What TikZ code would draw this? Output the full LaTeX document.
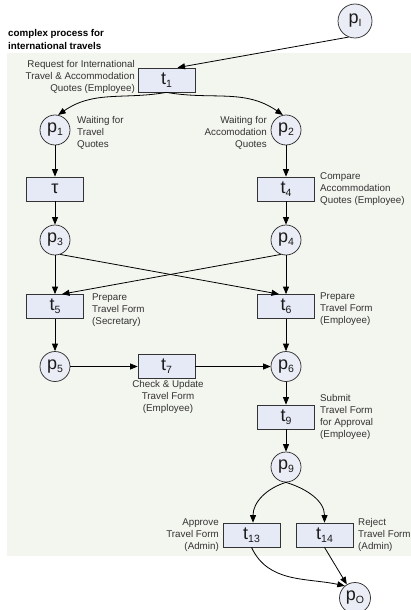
\documentclass[tikz,border=0pt]{standalone}
\usepackage{fontspec}
\setmainfont{Liberation Sans}
\usetikzlibrary{arrows.meta}
\definecolor{panel}{HTML}{F3F5EF}
\definecolor{boxfill}{HTML}{E6E9F6}
\definecolor{placefill}{HTML}{EBEDF6}
\definecolor{labeltext}{HTML}{333333}
\definecolor{nametext}{HTML}{1A1A1A}
% lowered index of a place or transition name
\newcommand\idx[1]{\raisebox{-0.3ex}{\fontsize{10.5}{10.5}\selectfont #1}}

\begin{document}
\begin{tikzpicture}[x=1pt,y=1pt,
  trans/.style={draw=black!80, fill=boxfill, line width=0.75pt,
    minimum width=57pt, minimum height=24pt, inner sep=0pt, text=nametext,
    font=\fontsize{18}{18}\selectfont},
  place/.style={circle, draw=black!80, fill=placefill, line width=0.75pt,
    minimum size=30pt, inner sep=0pt, text=nametext,
    font=\fontsize{18}{18}\selectfont},
  lbl/.style={text=labeltext, font=\fontsize{9.8}{12}\selectfont, inner sep=0pt},
  arr/.style={-{Triangle[length=7.5pt,width=6pt]}, line width=0.8pt}
]
\useasboundingbox (0,0) rectangle (410,-610);

% shaded process area
\fill[panel] (7,-53) rectangle (412,-556);

\node[anchor=west, align=left, inner sep=0pt, font=\fontsize{9.8}{12.5}\selectfont\bfseries]
  (title) at (8,-39.5) {complex process for\\international travels};

% places
\node[place, minimum size=34pt] (pI) at (355,-21) {p\idx{I}};
\node[place] (p1) at (55,-130) {p\idx{1}};
\node[place] (p2) at (286,-130) {p\idx{2}};
\node[place] (p3) at (55,-240) {p\idx{3}};
\node[place] (p4) at (286,-240) {p\idx{4}};
\node[place] (p5) at (55,-366.5) {p\idx{5}};
\node[place] (p6) at (286,-366.5) {p\idx{6}};
\node[place] (p9) at (286,-467) {p\idx{9}};
\node[place, minimum size=31pt] (pO) at (355,-598) {p\idx{O}};

% transitions
\node[trans] (t1) at (166.5,-80) {t\idx{1}};
\node[trans] (tau) at (55,-189) {τ};
\node[trans] (t4) at (286,-189) {t\idx{4}};
\node[trans] (t5) at (55,-306.5) {t\idx{5}};
\node[trans] (t6) at (286,-306.5) {t\idx{6}};
\node[trans] (t7) at (166.5,-366.5) {t\idx{7}};
\node[trans] (t9) at (286,-417) {t\idx{9}};
\node[trans] (t13) at (251.5,-535) {t\idx{13}};
\node[trans] (t14) at (324.5,-535) {t\idx{14}};

% activity labels
\node[lbl, anchor=east, align=right] (l1) at (135,-77)
  {Request for International\\Travel \& Accommodation\\Quotes (Employee)};
\node[lbl, anchor=west, align=left] (lp1) at (77,-133) {Waiting for\\Travel\\Quotes};
\node[lbl, anchor=east, align=right] (lp2) at (267,-133) {Waiting for\\Accomodation\\Quotes};
\node[lbl, anchor=west, align=left] (l4) at (320,-189) {Compare\\Accommodation\\Quotes (Employee)};
\node[lbl, anchor=west, align=left] (l5) at (92,-310) {Prepare\\Travel Form\\(Secretary)};
\node[lbl, anchor=west, align=left] (l6) at (320,-309) {Prepare\\Travel Form\\(Employee)};
\node[lbl, align=center] (l7) at (168,-397) {Check \& Update\\Travel Form\\(Employee)};
\node[lbl, anchor=west, align=left] (l9) at (320,-417) {Submit\\Travel Form\\for Approval\\(Employee)};
\node[lbl, anchor=east, align=right] (l13) at (219,-535) {Approve\\Travel Form\\(Admin)};
\node[lbl, anchor=west, align=left] (l14) at (358,-535) {Reject\\Travel Form\\(Admin)};

% arcs
\draw[arr] (pI.-112) -- ([xshift=11pt]t1.north);
\draw[arr] (t1.south) to[out=190, in=35] (p1.78);
\draw[arr] (t1.south) to[out=-10, in=145] (p2.102);
\draw[arr] (p1) -- (tau);
\draw[arr] (p2) -- (t4);
\draw[arr] (tau) -- (p3);
\draw[arr] (t4) -- (p4);
\draw[arr] (p3) -- (t5);
\draw[arr] (p4) -- (t6);
\draw[arr] (p3.-70) -- ([xshift=-7pt]t6.north);
\draw[arr] (p4.-110) -- ([xshift=7pt]t5.north);
\draw[arr] (t5) -- (p5);
\draw[arr] (t6) -- (p6);
\draw[arr] (p5) -- (t7);
\draw[arr] (t7) -- (p6);
\draw[arr] (p6) -- (t9);
\draw[arr] (t9) -- (p9);
\draw[arr] (p9.south) to[out=197, in=90] ([xshift=1.5pt]t13.north);
\draw[arr] (p9.south) to[out=-17, in=90] (t14.north);
\draw[arr] (t13.south) to[out=-65, in=168] (pO.130);
\draw[arr] (t14.south) -- (pO);
\end{tikzpicture}
\end{document}
